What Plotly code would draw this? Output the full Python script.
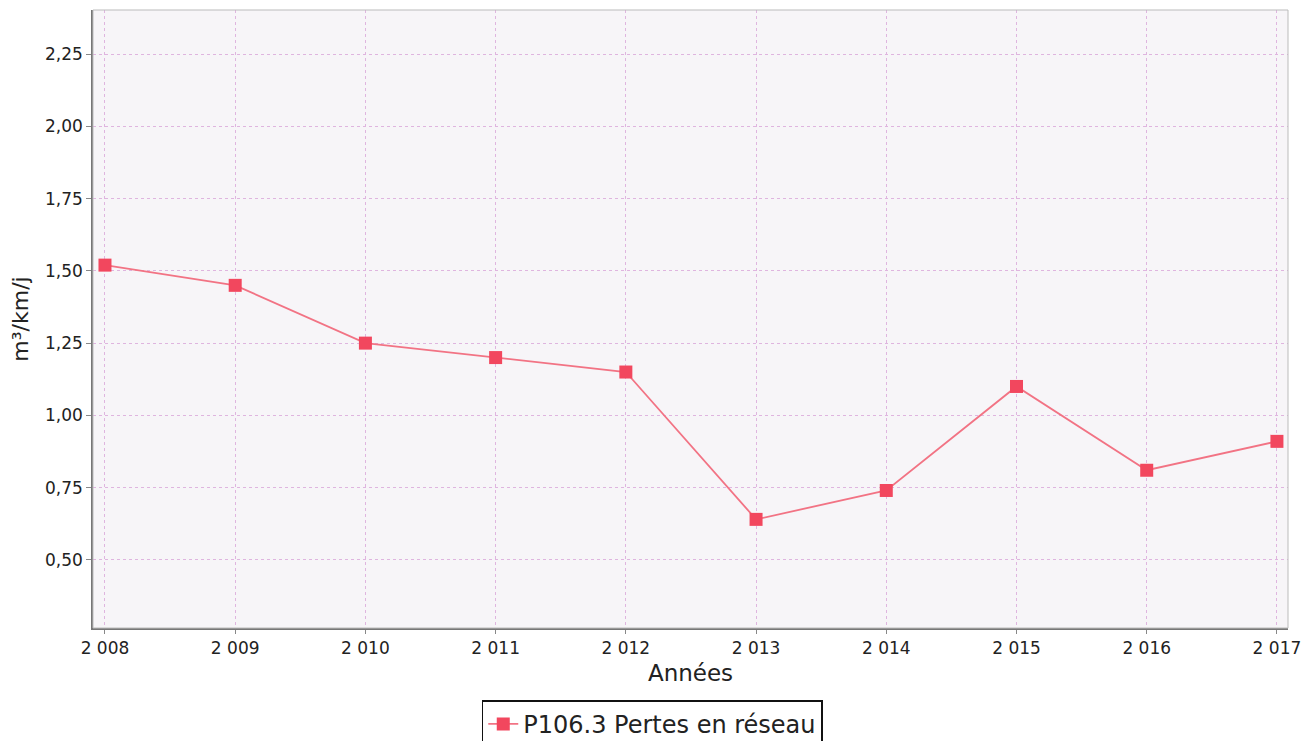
import plotly.graph_objects as go

years = [2008, 2009, 2010, 2011, 2012, 2013, 2014, 2015, 2016, 2017]
year_labels = ["2 008", "2 009", "2 010", "2 011", "2 012", "2 013", "2 014", "2 015", "2 016", "2 017"]
pertes = [1.52, 1.45, 1.25, 1.20, 1.15, 0.64, 0.74, 1.10, 0.81, 0.91]
y_ticks = [0.50, 0.75, 1.00, 1.25, 1.50, 1.75, 2.00, 2.25]
y_tick_labels = ["0,50", "0,75", "1,00", "1,25", "1,50", "1,75", "2,00", "2,25"]

fig = go.Figure()
fig.add_trace(go.Scatter(
    x=years, y=pertes, mode="lines+markers",
    name="P106.3 Pertes en réseau",
    line=dict(color="#f27384", width=1.8),
    marker=dict(symbol="square", size=13, color="#f2475e"),
))

# page body has an 8px margin, so the figure is sized/offset to compensate
fig.update_layout(
    width=1307, height=733,
    margin=dict(l=85, r=27, t=2, b=113, autoexpand=False),
    paper_bgcolor="white",
    plot_bgcolor="#f7f5f8",
    font=dict(family="DejaVu Sans", color="#222222"),
    showlegend=True,
    legend=dict(
        x=0.468, y=-0.117, xanchor="center", yanchor="top",
        orientation="h", bordercolor="#111111", borderwidth=1.5,
        bgcolor="white", font=dict(size=24, color="#222222"),
        itemwidth=30,
    ),
    xaxis=dict(
        range=[2007.908, 2017.085], automargin=False,
        tickmode="array", tickvals=years, ticktext=year_labels,
        tickfont=dict(size=17, color="#222222"),
        ticks="outside", ticklen=4, tickcolor="#888888",
        showgrid=True, gridcolor="#dfb5df", griddash="dot", gridwidth=1,
        showline=True, linecolor="#777777", linewidth=1.5, mirror=False,
        zeroline=False,
        title=dict(text="Années", font=dict(size=23, color="#222222"), standoff=8),
    ),
    yaxis=dict(
        range=[0.264, 2.403], automargin=False,
        tickmode="array", tickvals=y_ticks, ticktext=y_tick_labels,
        tickfont=dict(size=17, color="#222222"),
        ticks="outside", ticklen=5, tickcolor="#888888",
        showgrid=True, gridcolor="#dfb5df", griddash="dot", gridwidth=1,
        showline=True, linecolor="#777777", linewidth=1.5,
        zeroline=False,
        title=dict(text="m³/km/j", font=dict(size=22, color="#222222"), standoff=14),
    ),
)
fig.add_shape(type="rect", xref="paper", yref="paper", x0=0, y0=0, x1=1, y1=1,
              line=dict(color="#bbbbbb", width=1), layer="above")

fig.write_html("out.html")
